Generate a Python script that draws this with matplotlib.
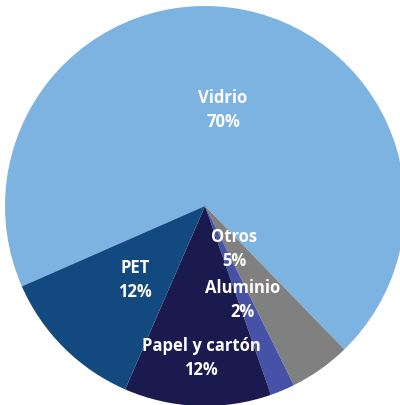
import matplotlib
matplotlib.use("Agg")
import matplotlib.pyplot as plt

# data
categories = ["Vidrio", "Otros", "Aluminio", "Papel y cartón", "PET"]
values = [70, 5, 2, 12, 12]
colors = ["#7DB3E1", "#808080", "#4652A8", "#1B1A4F", "#124A80"]

# label positions in pie units (center 0,0, radius 1)
label_pos = [(0.09, 0.485), (0.145, -0.21), (0.19, -0.465), (-0.02, -0.755), (-0.35, -0.365)]

plt.rcParams['font.family'] = ['Open Sans', 'DejaVu Sans']

fig = plt.figure(figsize=(4.0, 4.06), dpi=100, facecolor='white')
ax = fig.add_axes([5 / 400, -1 / 406, 400 / 400, 400 / 406])

ax.pie(values, colors=colors, startangle=203.7, counterclock=False,
       radius=1.0, wedgeprops=dict(linewidth=0))

for cat, val, (x, y) in zip(categories, values, label_pos):
    ax.text(x, y, "%s\n%d%%" % (cat, val), color="white", fontsize=12,
            fontweight="bold", ha="center", va="center", linespacing=1.45)

ax.set_xlim(-1, 1)
ax.set_ylim(-1, 1)
ax.set_aspect('equal')
ax.axis('off')

fig.savefig("out.png", dpi=100, facecolor='white')
